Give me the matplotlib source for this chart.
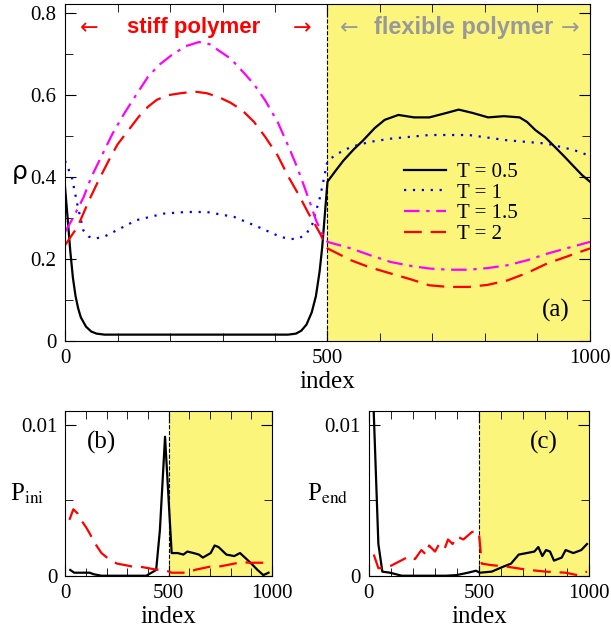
import numpy as np
import matplotlib.pyplot as plt
from matplotlib.ticker import MultipleLocator

plt.rcParams['font.family'] = ['Liberation Serif', 'DejaVu Serif']
plt.rcParams['mathtext.fontset'] = 'stix'

# ---- panel (a): density profiles rho(index) ----
x05 = [0, 5, 10, 15, 20, 25, 30, 40, 50, 60, 75, 150, 250, 350, 425, 440, 450, 460, 470, 478, 485, 490, 495, 500,
       515, 530, 550, 568, 590, 609, 635, 665, 694, 724, 750, 776, 806, 836, 866, 880, 896, 915, 933, 950, 970, 985, 1000]
y05 = [0.376, 0.30, 0.22, 0.155, 0.11, 0.08, 0.058, 0.035, 0.023, 0.018, 0.0155, 0.0155, 0.0155, 0.0155, 0.0155,
       0.018, 0.025, 0.04, 0.07, 0.11, 0.17, 0.23, 0.31, 0.389,
       0.415, 0.44, 0.468, 0.49, 0.52, 0.540, 0.552, 0.546, 0.546, 0.556, 0.565, 0.557, 0.546, 0.549, 0.546,
       0.535, 0.515, 0.497, 0.474, 0.452, 0.425, 0.405, 0.389]

x1 = [0, 13, 24, 35, 45, 57, 75, 98, 136, 188, 230, 270, 322, 367, 411, 430, 445, 460, 471, 486, 500,
      520, 545, 580, 620, 694, 769, 843, 918, 970, 1000]
y1 = [0.44, 0.40, 0.33, 0.27, 0.255, 0.25, 0.255, 0.27, 0.295, 0.311, 0.315, 0.315, 0.303, 0.279, 0.254, 0.249,
      0.25, 0.262, 0.285, 0.352, 0.44,
      0.458, 0.474, 0.486, 0.494, 0.503, 0.503, 0.49, 0.482, 0.466, 0.452]

x15 = [0, 15, 35, 50, 69, 90, 113, 135, 158, 180, 203, 230, 255, 275, 292, 315, 337, 360, 381, 405, 426, 442, 456, 468,
       478, 490, 500, 545, 580, 620, 660, 694, 730, 769, 805, 843, 880, 918, 960, 1000]
y15 = [0.266, 0.30, 0.35, 0.40, 0.45, 0.505, 0.556, 0.60, 0.645, 0.675, 0.698, 0.72, 0.73, 0.725, 0.71, 0.69, 0.66,
       0.627, 0.588, 0.535, 0.474, 0.425, 0.376, 0.333, 0.295, 0.262, 0.242,
       0.226, 0.21, 0.193, 0.183, 0.177, 0.174, 0.174, 0.178, 0.185, 0.197, 0.213, 0.228, 0.242]

x2 = [0, 24, 46, 65, 83, 100, 121, 140, 158, 175, 195, 220, 247, 270, 292, 315, 337, 360, 381, 405, 426, 446, 464,
      476, 486, 493, 500, 545, 580, 620, 660, 694, 730, 769, 805, 843, 880, 918, 960, 1000]
y2 = [0.234, 0.279, 0.344, 0.395, 0.44, 0.48, 0.515, 0.547, 0.572, 0.589, 0.6, 0.605, 0.609, 0.605, 0.596, 0.582,
      0.564, 0.535, 0.499, 0.453, 0.40, 0.355, 0.311, 0.285, 0.262, 0.243, 0.226,
      0.197, 0.18, 0.165, 0.15, 0.136, 0.132, 0.132, 0.137, 0.148, 0.166, 0.189, 0.208, 0.226]

# ---- panel (b): P_ini ----
xb05 = [23, 42, 80, 117, 136, 174, 250, 330, 391, 439, 457, 482, 514, 543, 571, 590, 620, 646, 665,
        703, 722, 741, 779, 817, 845, 873, 900, 930, 958, 983]
yb05 = [0.00038, 0.0002, 0.0002, 0.0002, 0.0001, 0.0, 0.0, 0.0, 0.0, 0.00038, 0.003, 0.0092, 0.0015, 0.0015,
        0.0014, 0.0016, 0.0015, 0.0014, 0.0012, 0.0015, 0.002, 0.0019, 0.0014, 0.0013, 0.0015, 0.00115,
        0.0008, 0.00038, 0.00004, 0.0002]
xb2 = [19, 38, 60, 80, 100, 117, 140, 174, 210, 250, 290, 325, 360, 401, 440, 476, 514, 550, 590, 630, 665, 700,
       741, 780, 817, 855, 892, 940, 987]
yb2 = [0.0037, 0.0044, 0.0041, 0.0036, 0.0032, 0.0028, 0.0022, 0.0015, 0.0011, 0.0008, 0.0007, 0.0006, 0.0006,
       0.0005, 0.0004, 0.0004, 0.0002, 0.0002, 0.0002, 0.0004, 0.0005, 0.0006, 0.0006, 0.0007, 0.0008, 0.0009,
       0.00086, 0.00086, 0.00086]

# ---- panel (c): P_end ----
xc05 = [23, 44, 62, 97, 150, 250, 350, 398, 451, 487, 504, 558, 611, 646, 681, 717, 752, 770, 788,
        805, 823, 841, 876, 894, 929, 965, 991]
yc05 = [0.0108, 0.0021, 0.00027, 0.0002, 0.0, 0.0, 0.0, 0.00004, 0.0002, 0.00033, 0.0002, 0.00027, 0.0006,
        0.0008, 0.0014, 0.0015, 0.0016, 0.0019, 0.0013, 0.0017, 0.0016, 0.001, 0.0012, 0.0017, 0.0015,
        0.0017, 0.0021]
xc2 = [23, 44, 80, 133, 186, 210, 239, 260, 274, 301, 320, 345, 360, 381, 400, 430, 469, 500,
       513, 558, 628, 717, 805, 894, 947, 991]
yc2 = [0.0014, 0.0005, 0.0005, 0.0009, 0.0013, 0.0011, 0.0017, 0.0014, 0.002, 0.0016, 0.0021, 0.0018,
       0.0024, 0.0021, 0.0026, 0.0024, 0.0029, 0.0029, 0.0008, 0.0007, 0.0006, 0.0004, 0.00027, 0.0002,
       0.00004, 0.00027]

yellow = '#fbf57c'


def style_axes(ax, xminor, ymajor, yminor):
    ax.xaxis.set_major_locator(MultipleLocator(500))
    ax.xaxis.set_minor_locator(MultipleLocator(xminor))
    ax.yaxis.set_major_locator(MultipleLocator(ymajor))
    ax.yaxis.set_minor_locator(MultipleLocator(yminor))
    ax.tick_params(which='both', direction='in', top=True, right=True, labelsize=15, pad=6)
    ax.tick_params(which='major', length=8)
    ax.tick_params(which='minor', length=6)
    ax.axvspan(500, 1000, color=yellow, zorder=0)
    ax.axvline(500, color='k', ls='--', lw=0.8, zorder=1)
    ax.set_xlim(0, 1000)


fig = plt.figure(figsize=(6.11, 6.29), dpi=100)
ax = fig.add_axes([0.1064, 0.4579, 0.8592, 0.5358])
style_axes(ax, 100, 0.2, 0.1)
ax.set_ylim(0, 0.823)
ax.yaxis.set_major_formatter(plt.FuncFormatter(lambda v, p: '0' if v == 0 else '%.1f' % v))

ax.plot(x05, y05, color='k', lw=1.6, label='T = 0.5')
ax.plot(x1, y1, color='#0000ff', lw=1.6, ls=(0, (1, 3)), label='T = 1')
ax.plot(x15, y15, color='#ff00ff', lw=1.6, ls=(0, (7, 3, 1.5, 3)), label='T = 1.5')
ax.plot(x2, y2, color='#ff0000', lw=1.6, ls=(0, (8, 4)), label='T = 2')
ax.set_xlabel('index', fontsize=18, labelpad=2)
ax.set_ylabel('ρ', fontsize=18, rotation=0, family='DejaVu Sans', va='center', ha='center')
ax.yaxis.set_label_coords(-0.086, 0.5)
ax.legend(loc='upper left', bbox_to_anchor=(0.61, 0.585), frameon=False, fontsize=15,
          handlelength=2.0, labelspacing=0.05, handletextpad=0.55)
ax.text(935, 0.075, '(a)', fontsize=18, ha='center', va='center')

ax.text(47, 0.765, '←', color='red', fontsize=16, ha='center', va='center', family='DejaVu Sans')
ax.text(245, 0.765, 'stiff polymer', color='red', fontsize=16, fontweight='bold',
        ha='center', va='center', family='Liberation Sans')
ax.text(451, 0.765, '→', color='red', fontsize=16, ha='center', va='center', family='DejaVu Sans')
ax.text(541, 0.765, '←', color='#999999', fontsize=16, ha='center', va='center', family='DejaVu Sans')
ax.text(760, 0.765, 'flexible polymer', color='#999999', fontsize=17, fontweight='bold',
        ha='center', va='center', family='Liberation Sans')
ax.text(962, 0.765, '→', color='#999999', fontsize=16, ha='center', va='center', family='DejaVu Sans')

axb = fig.add_axes([0.1072, 0.0847, 0.338, 0.2618])
style_axes(axb, 100, 0.01, 0.005)
axb.set_ylim(0, 0.0109)
axb.yaxis.set_major_formatter(plt.FuncFormatter(lambda v, p: '0' if v == 0 else '%g' % v))
axb.plot(xb05, yb05, color='k', lw=1.6)
axb.plot(xb2, yb2, color='#ff0000', lw=1.6, ls=(0, (8, 4)))
axb.set_xlabel('index', fontsize=18, labelpad=2)
axb.set_ylabel('P$_{\\rm ini}$', fontsize=18, rotation=0, va='center', ha='center')
axb.yaxis.set_label_coords(-0.187, 0.5)
axb.text(174, 0.0088, '(b)', fontsize=18, ha='center', va='center')

axc = fig.add_axes([0.6034, 0.0847, 0.3606, 0.2618])
style_axes(axc, 100, 0.01, 0.005)
axc.set_ylim(0, 0.0109)
axc.yaxis.set_major_formatter(plt.FuncFormatter(lambda v, p: '0' if v == 0 else '%g' % v))
axc.plot(xc05, yc05, color='k', lw=1.6)
axc.plot(xc2, yc2, color='#ff0000', lw=1.6, ls=(0, (8, 4)))
axc.set_xlabel('index', fontsize=18, labelpad=2)
axc.set_ylabel('P$_{\\rm end}$', fontsize=18, rotation=0, va='center', ha='center')
axc.yaxis.set_label_coords(-0.185, 0.5)
axc.text(796, 0.0088, '(c)', fontsize=18, ha='center', va='center')

fig.savefig('out.png', dpi=100)
